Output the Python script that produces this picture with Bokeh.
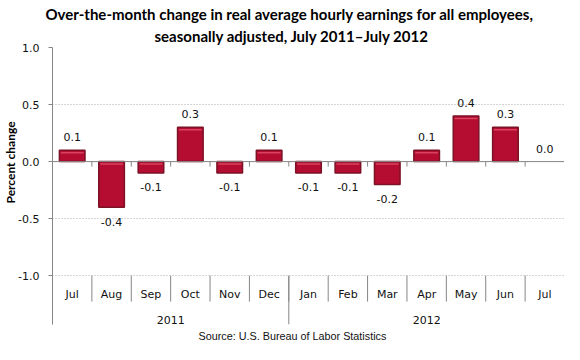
import numpy as np
from bokeh.plotting import figure
from bokeh.models import Range1d, FixedTicker, NumeralTickFormatter, Title
from bokeh.embed import file_html
from bokeh.resources import INLINE
from bokeh.core.properties import value

# ---- data ----
months = ["Jul", "Aug", "Sep", "Oct", "Nov", "Dec", "Jan", "Feb", "Mar", "Apr", "May", "Jun", "Jul"]
years = ["2011", "2012"]
months_per_year = [6, 7]
change = [0.1, -0.4, -0.1, 0.3, -0.1, 0.1, -0.1, -0.1, -0.2, 0.1, 0.4, 0.3, 0.0]
y_ticks = [-1.0, -0.5, 0.0, 0.5, 1.0]
title_lines = ["Over-the-month change in real average hourly earnings for all employees,",
               "seasonally adjusted, July 2011\u2013July 2012"]
y_label = "Percent change"
source_note = "Source: U.S. Bureau of Labor Statistics"

# ---- layout constants ----
N = len(months)
Y_MIN = -1.428          # frame extends below -1.0 to hold the category band
MONTH_Y = -1.162
YEAR_Y = -1.385
MONTH_SEP_Y = -1.227
ZERO_TICK_Y = -0.044
HILITE = 0.022
AXIS_GRAY = "#868686"
TICK_FONT = "DejaVu Sans"
TITLE_FONT = "Lato"

p = figure(width=564, height=344, x_range=Range1d(0, N), y_range=Range1d(Y_MIN, 1.0),
           output_backend="svg", toolbar_location=None, x_axis_location=None,
           min_border_left=52, min_border_right=0, min_border_top=47, min_border_bottom=19)
p.outline_line_color = None
p.background_fill_color = "white"
p.border_fill_color = "white"

# titles (the Title added with add_layout sits nearer the frame than p.title)
p.title.text = title_lines[0]
p.title.align = "left"
p.title.offset = -7
p.title.standoff = 0
p.title.text_font = TITLE_FONT
p.title.text_font_style = "bold"
p.title.text_font_size = "15px"
p.title.text_color = "#000000"
p.add_layout(Title(text=title_lines[1], align="left", offset=102, standoff=5,
                   text_font=TITLE_FONT, text_font_style="bold", text_font_size="15px",
                   text_color="#000000"), "above")
p.add_layout(Title(text=y_label, align="left", offset=121, standoff=-4,
                   text_font=TITLE_FONT, text_font_style="bold", text_font_size="12px",
                   text_color="#000000"), "left")
p.add_layout(Title(text=source_note, align="left", offset=146, standoff=6,
                   text_font="Liberation Sans", text_font_style="normal",
                   text_font_size="10.8px", text_color="#111111"), "below")

# y axis
yax = p.yaxis[0]
yax.ticker = FixedTicker(ticks=y_ticks)
yax.formatter = NumeralTickFormatter(format="0.0")
yax.axis_line_color = AXIS_GRAY
yax.major_tick_line_color = AXIS_GRAY
yax.major_tick_out = 4
yax.major_tick_in = 0
yax.minor_tick_line_color = None
yax.major_label_text_font = TICK_FONT
yax.major_label_text_font_size = "11px"
yax.major_label_text_color = "#111111"
yax.major_label_standoff = 9

# grid
p.xgrid.visible = False
p.ygrid.ticker = FixedTicker(ticks=[t for t in y_ticks if t != 0])
p.ygrid.grid_line_color = "#ADADAD"
p.ygrid.grid_line_dash = "1 2"

centers = [i + 0.5 for i in range(N)]
bounds = list(range(N + 1))

# bars (bevel look: dark rim, light top strip)
rim = ["#7B1226" if v != 0 else None for v in change]
p.vbar(x=centers, top=change, bottom=0, width=0.65,
       fill_color="#B50D31", line_color=rim, line_width=1.5)
hl_x = [c for c, v in zip(centers, change) if v != 0]
hl_y = [max(v, 0) - HILITE for v in change if v != 0]
p.segment(x0=[x - 0.29 for x in hl_x], y0=hl_y, x1=[x + 0.29 for x in hl_x], y1=hl_y,
          line_color="#D9435F", line_width=1.5)

# zero line with tick marks
p.segment(x0=[0], y0=[0], x1=[N], y1=[0], line_color=AXIS_GRAY, line_width=1)
p.segment(x0=bounds, y0=[0] * len(bounds), x1=bounds, y1=[ZERO_TICK_Y] * len(bounds),
          line_color=AXIS_GRAY, line_width=1)

# category band: month separators and year separators
p.segment(x0=bounds, y0=[-1.0] * len(bounds), x1=bounds, y1=[MONTH_SEP_Y] * len(bounds),
          line_color=AXIS_GRAY, line_width=1)
year_bounds = [0] + [int(b) for b in np.cumsum(months_per_year)]
p.segment(x0=year_bounds, y0=[-1.0] * len(year_bounds), x1=year_bounds,
          y1=[Y_MIN] * len(year_bounds), line_color=AXIS_GRAY, line_width=1)

p.text(x=centers, y=[MONTH_Y] * N, text=months, text_align="center", text_baseline="middle",
       text_font=value(TICK_FONT), text_font_size="11px", text_color="#111111")
year_centers = [(year_bounds[i] + year_bounds[i + 1]) / 2 for i in range(len(years))]
p.text(x=year_centers, y=[YEAR_Y] * len(years), text=years, text_align="center",
       text_baseline="middle", text_font=value(TICK_FONT), text_font_size="11px",
       text_color="#111111")

# value labels
labels = [f"{v:.1f}" for v in change]
offsets = [-13 if v >= 0 else 14.5 for v in change]
p.text(x=centers, y=change, text=labels, y_offset=offsets, text_align="center",
       text_baseline="middle", text_font=value(TICK_FONT), text_font_size="11px",
       text_color="#111111")

open("out.html", "w").write(file_html(p, INLINE))
